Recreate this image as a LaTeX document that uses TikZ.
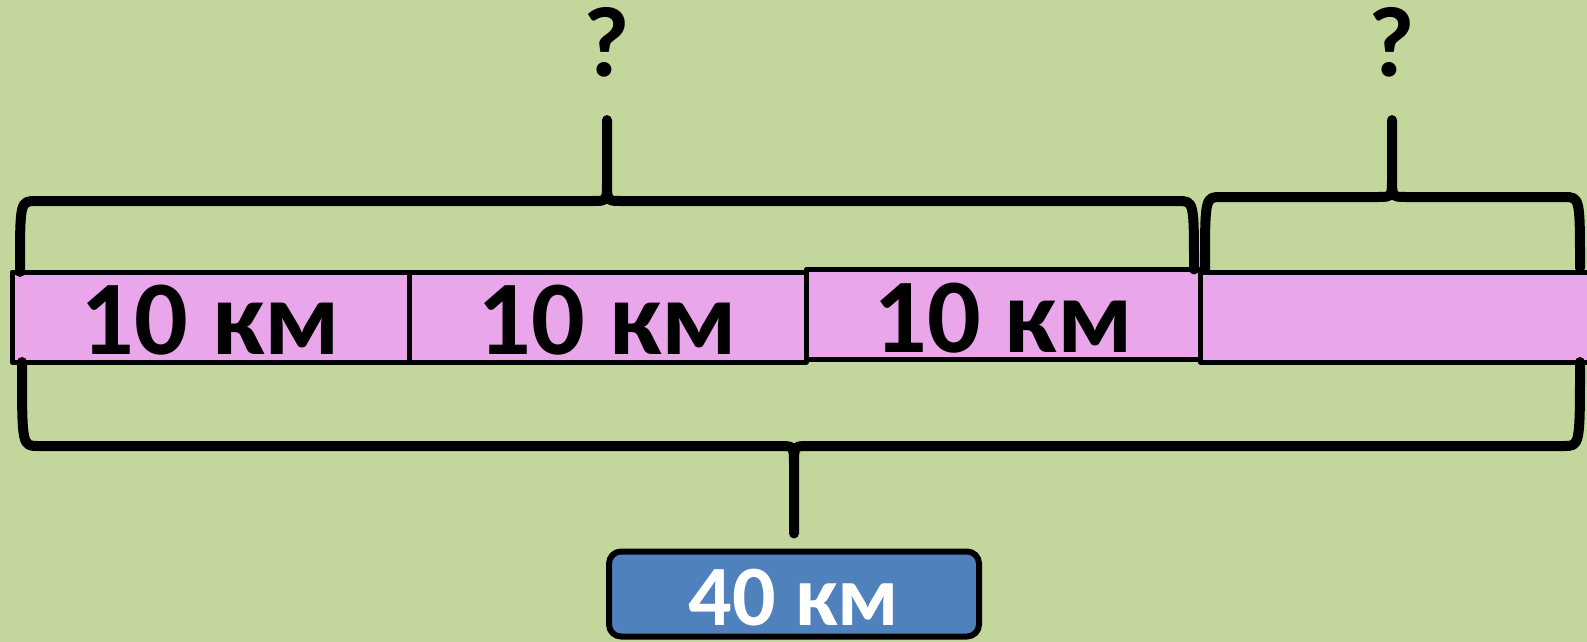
\documentclass[tikz,border=0pt]{standalone}
\usepackage{fontspec}
\setmainfont{Carlito}
\usetikzlibrary{calc}
\definecolor{bggreen}{HTML}{C3D69B}
\definecolor{segpink}{HTML}{EAA6EA}
\definecolor{boxblue}{HTML}{4F81BD}
% brace: left foot, right foot, tip, a point on the bar
\newcommand{\curlybrace}[4]{%
  \draw[bracestroke] (#1) .. controls (#1 |- #4) and (#1 |- #4) .. ($(#1 |- #4)+(16,0)$)
    -- ($(#3 |- #4)+(-14,0)$) .. controls (#3 |- #4) and (#3 |- #4) .. ($(#3 |- #4)!20pt!(#3)$)
    -- (#3) -- ($(#3 |- #4)!20pt!(#3)$) .. controls (#3 |- #4) and (#3 |- #4) .. ($(#3 |- #4)+(14,0)$)
    -- ($(#2 |- #4)+(-16,0)$) .. controls (#2 |- #4) and (#2 |- #4) .. (#2);}
\begin{document}
\begin{tikzpicture}[x=1pt, y=-1pt, line join=round, line cap=round,
    seg/.style={draw, line width=5pt, fill=segpink, minimum height=90pt, inner sep=0pt,
      outer sep=0pt, text height=76pt, font=\fontsize{106}{110}\selectfont\bfseries},
    ask/.style={inner sep=0pt, font=\fontsize{100}{110}\selectfont\bfseries},
    total/.style={draw, line width=6pt, fill=boxblue, rounded corners=12pt, text=white,
      minimum width=370pt, minimum height=85pt, inner sep=0pt, outer sep=0pt,
      text height=64pt, font=\fontsize{86}{90}\selectfont\bfseries},
    bracestroke/.style={line width=10pt}]
  \useasboundingbox (0,0) rectangle (1587,642);
  \clip (0,0) rectangle (1587,642);
  \fill[bggreen] (0,0) rectangle (1587,642);
  % the road in four parts
  \node[seg, minimum width=397pt] (s1) at (210.5,317) {10 км};
  \node[seg, minimum width=397pt] (s2) at (607.5,317) {10 км};
  \node[seg, minimum width=394pt] (s3) at (1003,314.5) {10 км};
  \node[seg, minimum width=400pt] (s4) at (1400,317) {};
  % labels
  \node[ask] (q1) at (607,42) {?};
  \node[ask] (q2) at (1392,42) {?};
  \node[total] (tot) at (794,594) {40 км};
  % braces
  \coordinate (f1a) at ([xshift=8pt]s1.north west);
  \coordinate (f1b) at ([xshift=-6pt]s3.north east);
  \coordinate (t1) at ([yshift=-43pt]q1.south);
  \coordinate (m1) at (0,201);
  \curlybrace{f1a}{f1b}{t1}{m1}
  \coordinate (f2a) at ([xshift=5pt]s3.north east);
  \coordinate (f2b) at (1580,268);
  \coordinate (t2) at ([yshift=-43pt]q2.south);
  \coordinate (m2) at (0,197);
  \curlybrace{f2a}{f2b}{t2}{m2}
  \coordinate (f3a) at ([xshift=10pt]s1.south west);
  \coordinate (f3b) at (1580,362);
  \coordinate (t3) at ([yshift=18pt]tot.north);
  \coordinate (m3) at (0,446);
  \curlybrace{f3a}{f3b}{t3}{m3}
\end{tikzpicture}
\end{document}
